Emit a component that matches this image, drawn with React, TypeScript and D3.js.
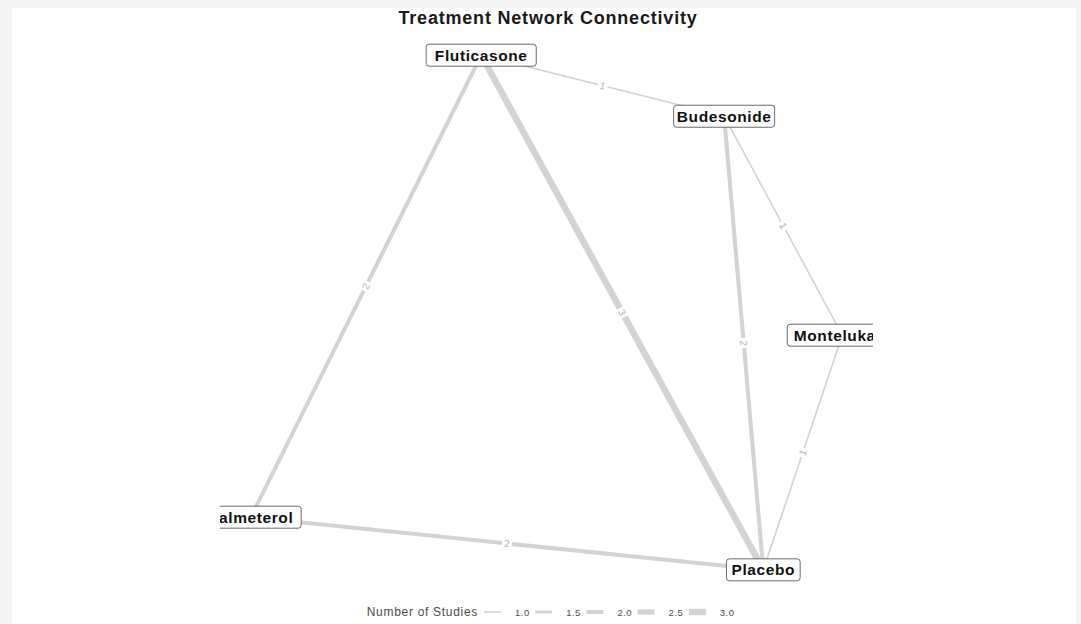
import React from "react";
import * as d3 from "d3";

const W = 1081;
const H = 624;

// Node layout (normalised layout coordinates)
const nodeNames = ["Fluticasone", "Budesonide", "Montelukast", "Salmeterol", "Placebo"];
const nodeX = [0.4, 0.772, 0.953, 0.047, 0.832];
const nodeY = [0.955, 0.846, 0.455, 0.13, 0.036];

// Edges: comparisons and number of studies
const edgeFrom = ["Fluticasone", "Fluticasone", "Fluticasone", "Budesonide", "Budesonide", "Montelukast", "Salmeterol"];
const edgeTo = ["Budesonide", "Salmeterol", "Placebo", "Placebo", "Montelukast", "Placebo", "Placebo"];
const edgeStudies = [1, 2, 3, 2, 1, 1, 2];

const legendValues = [1.0, 1.5, 2.0, 2.5, 3.0];

const FONT = "'Liberation Sans', Arial, Helvetica, sans-serif";

export default function App() {
  const x = d3.scaleLinear().domain([0, 1]).range([220, 873]);
  const y = d3.scaleLinear().domain([0, 1]).range([590, 30]);
  const w = d3.scaleLinear().domain([1, 3]).range([1.6, 6.5]);

  const pos: Record<string, [number, number]> = {};
  nodeNames.forEach((n, i) => (pos[n] = [x(nodeX[i]), y(nodeY[i])]));

  const edges = edgeFrom.map((f, i) => {
    const [x1, y1] = pos[f];
    const [x2, y2] = pos[edgeTo[i]];
    const mx = (x1 + x2) / 2;
    const my = (y1 + y2) / 2;
    let ang = (Math.atan2(y2 - y1, x2 - x1) * 180) / Math.PI;
    if (ang > 90) ang -= 180;
    if (ang < -90) ang += 180;
    return { x1, y1, x2, y2, mx, my, ang, n: edgeStudies[i] };
  });

  const legendX = d3
    .scaleBand<number>()
    .domain(legendValues)
    .range([484, 740])
    .paddingInner(0);

  return (
    <svg width={W} height={H} style={{ position: "absolute", left: 0, top: 0, display: "block" }}>
      <rect x={0} y={0} width={W} height={H} fill="#f5f5f5" />
      <rect x={12} y={8} width={1064} height={H - 8} fill="#ffffff" />
      <text
        x={548}
        y={24}
        textAnchor="middle"
        fontFamily={FONT}
        fontWeight="bold"
        fontSize={18}
        letterSpacing={0.8}
        fill="#1a1a1a"
      >
        Treatment Network Connectivity
      </text>
      <defs>
        <clipPath id="panel">
          <rect x={220} y={28} width={653} height={566} />
        </clipPath>
      </defs>
      <g clipPath="url(#panel)">
        {edges.map((e, i) => (
          <line
            key={"e" + i}
            x1={e.x1}
            y1={e.y1}
            x2={e.x2}
            y2={e.y2}
            stroke="#d2d3d5"
            strokeWidth={w(e.n)}
          />
        ))}
        {edges.map((e, i) => (
          <g key={"l" + i} transform={`translate(${e.mx},${e.my}) rotate(${e.ang})`}>
            <rect x={-5} y={-5} width={10} height={10} fill="#ffffff" />
            <text
              x={0}
              y={3.5}
              textAnchor="middle"
              fontFamily={FONT}
              fontSize={10}
              fill="#b4b4b4"
            >
              {e.n}
            </text>
          </g>
        ))}
        {nodeNames.map((n) => {
          const [cx, cy] = pos[n];
          const tw = n.length * 9.1;
          return (
            <g key={n} transform={`translate(${cx},${cy})`}>
              <rect
                x={-tw / 2 - 5}
                y={-11}
                width={tw + 10}
                height={22}
                rx={3}
                fill="#ffffff"
                stroke="#444444"
                strokeWidth={0.8}
              />
              <text
                x={0}
                y={5.5}
                textAnchor="middle"
                fontFamily={FONT}
                fontWeight="bold"
                fontSize={15.5}
                letterSpacing={0.6}
                fill="#111111"
              >
                {n}
              </text>
            </g>
          );
        })}
      </g>
      <text
        x={478}
        y={616}
        textAnchor="end"
        fontFamily={FONT}
        fontSize={12}
        letterSpacing={0.7}
        fill="#4d4d4d"
      >
        Number of Studies
      </text>
      {legendValues.map((v) => {
        const lx = legendX(v)!;
        return (
          <g key={v}>
            <line x1={lx} y1={612} x2={lx + 17} y2={612} stroke="#d2d3d5" strokeWidth={w(v)} />
            <text
              x={lx + 31}
              y={615.5}
              fontFamily={FONT}
              fontSize={9.5}
              letterSpacing={0.5}
              fill="#4d4d4d"
            >
              {v.toFixed(1)}
            </text>
          </g>
        );
      })}
    </svg>
  );
}
